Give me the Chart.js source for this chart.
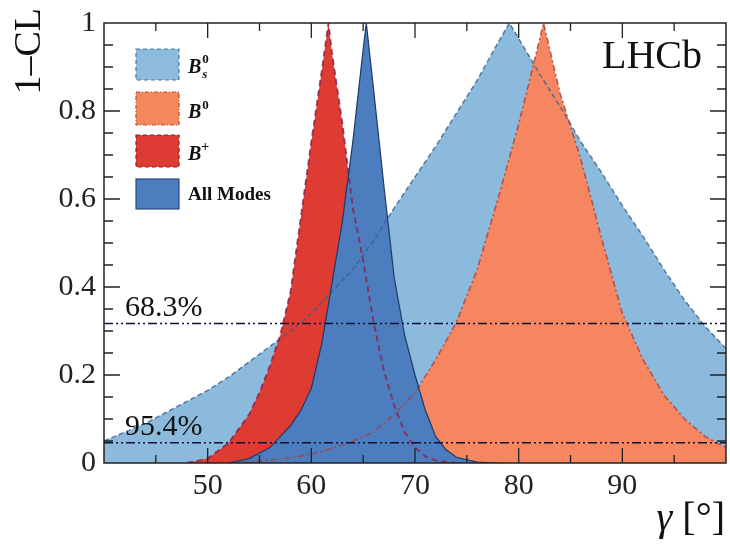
<!DOCTYPE html>
<html lang="en">
<head>
<meta charset="UTF-8">
<title>LHCb gamma combination</title>
<script src="https://cdn.jsdelivr.net/npm/chart.js"></script>
<style>
  body { margin: 0; background: #fff; }
</style>
</head>
<body>
<canvas id="gammaChart" width="730" height="545"></canvas>
<script>
// 1-CL scans vs gamma [deg]
const bsGamma = [40, 42, 44, 46, 48, 50, 52, 54, 56, 58, 60, 62, 64, 66, 68, 70, 72, 74, 76, 78, 79.1, 80, 82, 84, 86, 88, 90, 92, 94, 96, 98, 100];
const bsCL    = [0.05, 0.07, 0.09, 0.115, 0.14, 0.165, 0.195, 0.23, 0.265, 0.30, 0.34, 0.39, 0.44, 0.505, 0.58, 0.65, 0.72, 0.795, 0.87, 0.955, 1.0, 0.965, 0.885, 0.81, 0.73, 0.66, 0.585, 0.515, 0.44, 0.37, 0.31, 0.26];

const b0Gamma = [52, 55, 58, 60, 62, 64, 66, 68, 70, 72, 74, 76, 78, 80, 81, 82.4, 84, 86, 88, 90, 92, 94, 96, 98, 100];
const b0CL    = [0.0, 0.004, 0.012, 0.02, 0.033, 0.05, 0.07, 0.11, 0.16, 0.235, 0.32, 0.44, 0.60, 0.77, 0.865, 1.0, 0.84, 0.69, 0.51, 0.34, 0.235, 0.155, 0.10, 0.06, 0.035];

const bpGamma = [48, 50, 52, 54, 55, 56, 57, 58, 59, 60, 61, 61.65, 62, 63, 64, 65, 66, 67, 68, 69, 70, 71, 72, 74];
const bpCL    = [0.0, 0.01, 0.045, 0.11, 0.16, 0.22, 0.29, 0.39, 0.56, 0.73, 0.89, 1.0, 0.93, 0.77, 0.58, 0.46, 0.32, 0.21, 0.13, 0.07, 0.035, 0.015, 0.006, 0.0];

const allGamma = [52, 54, 56, 58, 59, 60, 61, 62, 63, 64, 65, 65.3, 66, 67, 68, 69, 70, 71, 72, 73, 74, 76, 78];
const allCL    = [0.0, 0.01, 0.035, 0.085, 0.12, 0.17, 0.27, 0.41, 0.55, 0.73, 0.94, 1.0, 0.85, 0.63, 0.42, 0.29, 0.20, 0.12, 0.06, 0.03, 0.013, 0.002, 0.0];

const clLevels = [0.317, 0.046];
const clLabels = ["68.3%", "95.4%"];
const xRange = [40, 100];
const xTicks = [50, 60, 70, 80, 90];
const yTicks = [0, 0.2, 0.4, 0.6, 0.8, 1];
const yTickLabels = ["0", "0.2", "0.4", "0.6", "0.8", "1"];

const SERIF = '"Liberation Serif", "DejaVu Serif", serif';

function pts(xs, ys) {
    return xs.map((x, i) => ({ x: x, y: ys[i] }));
}

const datasets = [
    {
        label: "All Modes", data: pts(allGamma, allCL), order: 1,
        backgroundColor: "#4b7dbf", borderColor: "#1f3a66", borderWidth: 1.2, fill: "origin"
    },
    {
        label: "B+", data: pts(bpGamma, bpCL), order: 2,
        backgroundColor: "#de3b33", borderColor: "rgba(140,35,80,0.85)", borderWidth: 1.9,
        borderDash: [6, 4], fill: "origin"
    },
    {
        label: "B0", data: pts(b0Gamma, b0CL), order: 3,
        backgroundColor: "#f5865f", borderColor: "rgba(175,60,60,0.8)", borderWidth: 1.6,
        borderDash: [6, 3, 2, 3], fill: "origin"
    },
    {
        label: "Bs0", data: pts(bsGamma, bsCL), order: 4,
        backgroundColor: "#8bbadd", borderColor: "rgba(55,95,145,0.8)", borderWidth: 1.5,
        borderDash: [5, 3], fill: "origin"
    }
];
clLevels.forEach((lvl, i) => {
    datasets.push({
        label: clLabels[i], data: pts(xRange, [lvl, lvl]), order: 0,
        borderColor: "#111133", borderWidth: 1.5, borderDash: [9, 3, 2, 3, 2, 3], fill: false
    });
});

// frame, inward ticks on all sides, legend and labels
const decorations = {
    id: "decorations",
    afterDatasetsDraw(chart) {
        const { ctx, chartArea: a, scales: { x, y } } = chart;
        ctx.save();
        ctx.strokeStyle = "#222";
        ctx.lineWidth = 1.5;
        ctx.strokeRect(a.left, a.top, a.right - a.left, a.bottom - a.top);

        ctx.lineWidth = 1.3;
        ctx.beginPath();
        for (let v = 45; v < 100; v += 5) {
            const px = x.getPixelForValue(v);
            const len = v % 10 === 0 ? 15 : 8;
            ctx.moveTo(px, a.bottom); ctx.lineTo(px, a.bottom - len);
            ctx.moveTo(px, a.top); ctx.lineTo(px, a.top + len);
        }
        for (let i = 1; i < 20; i++) {
            const py = y.getPixelForValue(i * 0.05);
            const len = i % 4 === 0 ? 16 : 9;
            ctx.moveTo(a.left, py); ctx.lineTo(a.left + len, py);
            ctx.moveTo(a.right, py); ctx.lineTo(a.right - len, py);
        }
        ctx.stroke();

        // legend
        const boxes = [
            { fill: "#8dbbdd", stroke: "#4a78a8", dash: [4, 3], top: 49, h: 31 },
            { fill: "#f5875f", stroke: "#b0503a", dash: [4, 2, 1, 2], top: 92, h: 33 },
            { fill: "#dd3b33", stroke: "#8a2222", dash: [4, 3], top: 135, h: 32 },
            { fill: "#4b7dbf", stroke: "#2a4a78", dash: [], top: 179, h: 30 }
        ];
        boxes.forEach(b => {
            ctx.fillStyle = b.fill;
            ctx.fillRect(136, b.top, 43, b.h);
            ctx.setLineDash(b.dash);
            ctx.lineWidth = 1.2;
            ctx.strokeStyle = b.stroke;
            ctx.strokeRect(136, b.top, 43, b.h);
        });
        ctx.setLineDash([]);
        ctx.fillStyle = "#111";
        ctx.textAlign = "left";
        ctx.textBaseline = "alphabetic";
        ctx.font = "italic bold 20px " + SERIF;
        const bw = ctx.measureText("B").width;
        // B_s^0
        ctx.fillText("B", 188, 73);
        ctx.font = "bold 13px " + SERIF;
        ctx.fillText("0", 188 + bw + 1, 63);
        ctx.font = "italic bold 13px " + SERIF;
        ctx.fillText("s", 188 + bw + 1, 78);
        // B^0
        ctx.font = "italic bold 20px " + SERIF;
        ctx.fillText("B", 188, 118);
        ctx.font = "bold 13px " + SERIF;
        ctx.fillText("0", 188 + bw + 1, 109);
        // B^+
        ctx.font = "italic bold 20px " + SERIF;
        ctx.fillText("B", 188, 160);
        ctx.font = "bold 14px " + SERIF;
        ctx.fillText("+", 188 + bw, 151);
        // All Modes
        ctx.font = "bold 19px " + SERIF;
        ctx.fillText("All Modes", 188, 200);

        // CL labels
        ctx.font = "30px " + SERIF;
        ctx.fillStyle = "#111";
        clLevels.forEach((lvl, i) => {
            ctx.fillText(clLabels[i], 125, y.getPixelForValue(lvl) - 8);
        });

        // LHCb
        ctx.font = "40px " + SERIF;
        ctx.fillText("LHCb", 602, 68);

        // axis titles
        ctx.textAlign = "right";
        const rest = " [\u00b0]";
        ctx.font = "40px " + SERIF;
        const rw = ctx.measureText(rest).width;
        ctx.fillText(rest, 725, 530);
        ctx.font = "italic 40px " + SERIF;
        ctx.fillText("\u03b3", 725 - rw, 530);

        ctx.translate(30, 8);
        ctx.rotate(-Math.PI / 2);
        ctx.font = "38px " + SERIF;
        ctx.textAlign = "right";
        ctx.textBaseline = "middle";
        ctx.fillText("1\u2013CL", 0, 0);
        ctx.restore();
    }
};

new Chart(document.getElementById("gammaChart").getContext("2d"), {
    type: "line",
    data: { datasets: datasets },
    options: {
        responsive: false,
        animation: false,
        events: [],
        layout: { autoPadding: false, padding: { top: 13, right: 4, left: 0, bottom: 0 } },
        elements: { point: { radius: 0 }, line: { tension: 0 } },
        plugins: {
            legend: { display: false },
            tooltip: { enabled: false },
            filler: { drawTime: "beforeDatasetsDraw" }
        },
        scales: {
            x: {
                type: "linear", min: xRange[0], max: xRange[1],
                grid: { display: false, drawTicks: false },
                border: { display: false },
                afterBuildTicks: s => { s.ticks = xTicks.map(v => ({ value: v })); },
                afterFit: s => { s.height = 82; },
                ticks: { padding: 8, color: "#222", font: { family: SERIF, size: 30, lineHeight: 1 } }
            },
            y: {
                min: 0, max: 1,
                grid: { display: false, drawTicks: false },
                border: { display: false },
                afterBuildTicks: s => { s.ticks = yTicks.map(v => ({ value: v })); },
                afterFit: s => { s.width = 104; },
                ticks: {
                    padding: 8, color: "#222", font: { family: SERIF, size: 30, lineHeight: 1 },
                    callback: (v, i) => yTickLabels[i]
                }
            }
        }
    },
    plugins: [decorations]
});
</script>
</body>
</html>
